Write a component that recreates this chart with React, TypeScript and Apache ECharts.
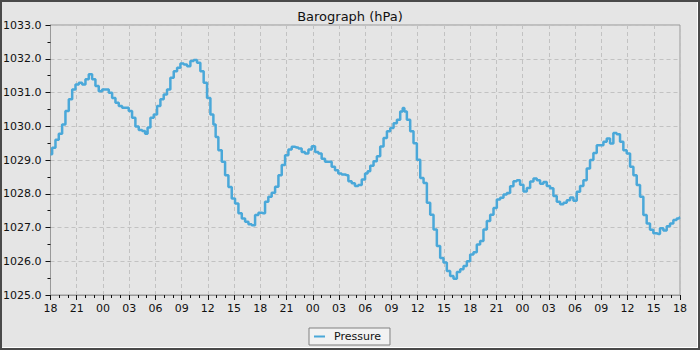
import React, { useEffect, useRef } from "react";
import * as echarts from "echarts";

const hours = [
  0, 0.38, 0.76, 1.14, 1.52, 1.9, 2.29, 2.67, 3.05, 3.43, 3.81, 4.19, 4.57, 4.95, 5.33, 5.71,
  6.1, 6.48, 6.86, 7.24, 7.62, 8.0, 8.38, 8.76, 9.14, 9.52, 9.9, 10.29, 10.67, 10.97, 11.24,
  11.62, 12.0, 12.38, 12.76, 13.14, 13.52, 13.9, 14.29, 14.67, 15.05, 15.43, 15.81, 16.19,
  16.57, 16.95, 17.33, 17.71, 18.1, 18.48, 18.78, 19.0, 19.4, 19.78, 20.16, 20.54, 20.92,
  21.3, 21.69, 22.07, 22.45, 22.83, 23.2, 23.6, 23.97, 24.35, 24.73, 25.1, 25.5, 25.88,
  26.26, 26.64, 27.02, 27.4, 27.78, 28.16, 28.54, 28.92, 29.3, 29.7, 30.07, 30.45, 30.83,
  31.2, 31.6, 31.97, 32.35, 32.73, 33.1, 33.5, 33.88, 34.26, 34.64, 35.0, 35.4, 35.8, 36.16,
  36.38, 36.76, 37.14, 37.52, 37.9, 38.29, 38.67, 39.05, 39.43, 39.81, 40.19, 40.38, 40.57,
  40.95, 41.33, 41.71, 42.1, 42.48, 42.86, 43.24, 43.62, 44.0, 44.38, 44.76, 45.14, 45.52,
  45.9, 46.29, 46.67, 47.05, 47.43, 47.81, 48.19, 48.57, 48.95, 49.33, 49.71, 50.1, 50.48,
  50.86, 51.24, 51.62, 52.0, 52.38, 52.76, 53.14, 53.52, 53.9, 54.29, 54.67, 55.05, 55.43,
  55.81, 56.19, 56.57, 56.95, 57.33, 57.71, 58.1, 58.48, 58.86, 59.24, 59.62, 60.0, 60.38,
  60.76, 61.14, 61.52, 61.9, 62.29, 62.67, 63.05, 63.43, 63.81, 64.19, 64.57, 64.95, 65.33,
  65.71, 66.1, 66.48, 66.86, 67.24, 67.62, 68.0, 68.38, 68.76, 69.14, 69.52, 69.9, 70.29,
  70.67, 71.05, 71.43, 71.81, 72.0,
];

const pressure = [
  1029.17, 1029.36, 1029.6, 1029.78, 1030.05, 1030.45, 1030.8, 1031.09, 1031.24, 1031.29,
  1031.24, 1031.39, 1031.54, 1031.39, 1031.19, 1031.04, 1031.09, 1031.09, 1030.99, 1030.84,
  1030.7, 1030.6, 1030.55, 1030.55, 1030.45, 1030.25, 1029.99, 1029.89, 1029.86, 1029.78,
  1029.96, 1030.25, 1030.35, 1030.6, 1030.8, 1030.94, 1031.09, 1031.44, 1031.63, 1031.73,
  1031.86, 1031.83, 1031.78, 1031.93, 1031.96, 1031.88, 1031.63, 1031.29, 1030.84, 1030.35,
  1030.05, 1029.68, 1029.29, 1028.95, 1028.55, 1028.2, 1027.86, 1027.71, 1027.42, 1027.27,
  1027.17, 1027.1, 1027.07, 1027.37, 1027.44, 1027.42, 1027.76, 1027.91, 1028.03, 1028.21,
  1028.55, 1028.85, 1029.14, 1029.31, 1029.39, 1029.37, 1029.34, 1029.24, 1029.19, 1029.31,
  1029.41, 1029.24, 1029.19, 1029.04, 1028.95, 1028.95, 1028.8, 1028.7, 1028.6, 1028.57,
  1028.55, 1028.37, 1028.31, 1028.23, 1028.26, 1028.42, 1028.6, 1028.67, 1028.83, 1028.96,
  1029.11, 1029.4, 1029.65, 1029.85, 1029.95, 1030.09, 1030.19, 1030.44, 1030.54, 1030.44,
  1030.19, 1029.85, 1029.5, 1029.01, 1028.47, 1028.32, 1027.73, 1027.38, 1026.94, 1026.45,
  1026.1, 1025.96, 1025.71, 1025.56, 1025.48, 1025.68, 1025.76, 1025.86, 1026.0, 1026.2,
  1026.27, 1026.5, 1026.6, 1026.94, 1027.19, 1027.38, 1027.58, 1027.83, 1027.88, 1027.98,
  1028.02, 1028.22, 1028.37, 1028.4, 1028.27, 1028.07, 1028.17, 1028.36, 1028.45, 1028.4,
  1028.3, 1028.35, 1028.23, 1028.16, 1027.93, 1027.76, 1027.69, 1027.73, 1027.81, 1027.89,
  1027.79, 1028.06, 1028.23, 1028.4, 1028.75, 1029.0, 1029.21, 1029.44, 1029.44, 1029.54,
  1029.64, 1029.49, 1029.8, 1029.76, 1029.54, 1029.29, 1029.19, 1028.8, 1028.55, 1028.26,
  1027.91, 1027.37, 1027.12, 1026.93, 1026.83, 1026.81, 1026.98, 1026.91, 1027.04, 1027.12,
  1027.22, 1027.27, 1027.3,
];

const startHour = 18;
const seriesName = "Pressure";
const titleText = "Barograph (hPa)";

export default function App() {
  const ref = useRef<HTMLDivElement>(null);
  useEffect(() => {
    if (!ref.current) return;
    const chart = echarts.init(ref.current, undefined, { renderer: "svg" });
    const font = "DejaVu Sans";
    const data = hours.map((h, i) => [h, pressure[i]]);
    chart.setOption({
      animation: false,
      backgroundColor: "transparent",
      title: {
        text: titleText,
        left: "center",
        top: 5,
        textStyle: { fontFamily: font, fontSize: 13, fontWeight: "normal", color: "#111" },
      },
      grid: {
        left: 50,
        top: 25,
        right: 20,
        bottom: 55,
        show: true,
        borderColor: "#999",
        borderWidth: 1,
        backgroundColor: "transparent",
      },
      legend: {
        data: [seriesName],
        left: 309,
        top: 328,
        icon: "rect",
        itemWidth: 11,
        itemHeight: 2,
        padding: [3, 9, 3, 5],
        backgroundColor: "#f2f2f2",
        borderColor: "#808080",
        borderWidth: 1,
        borderRadius: 0,
        textStyle: { fontFamily: font, fontSize: 11, color: "#111", padding: [0, 0, 0, 4] },
      },
      xAxis: {
        type: "value",
        min: 0,
        max: 72,
        interval: 3,
        axisLine: { lineStyle: { color: "#999" } },
        axisTick: { length: 5, lineStyle: { color: "#111" } },
        minorTick: { show: true, splitNumber: 3, length: 3, lineStyle: { color: "#111" } },
        splitLine: { show: true, lineStyle: { color: "#c2c2c2", type: [4, 3] } },
        axisLabel: {
          fontFamily: font,
          fontSize: 11,
          color: "#111",
          margin: 8,
          formatter: (v: number) => String((startHour + v) % 24).padStart(2, "0"),
        },
      },
      yAxis: {
        type: "value",
        min: 1025,
        max: 1033,
        interval: 1,
        axisLine: { show: true, lineStyle: { color: "#999" } },
        axisTick: { show: true, length: 5, lineStyle: { color: "#111" } },
        minorTick: { show: true, splitNumber: 2, length: 3, lineStyle: { color: "#111" } },
        splitLine: { show: true, lineStyle: { color: "#c2c2c2", type: [4, 3] } },
        axisLabel: {
          fontFamily: font,
          fontSize: 11,
          color: "#111",
          margin: 9,
          formatter: (v: number) => v.toFixed(1),
        },
      },
      series: [
        {
          name: seriesName,
          type: "line",
          data,
          step: "middle",
          showSymbol: false,
          symbol: "none",
          color: "#4aa8d9",
          lineStyle: { width: 2.5, color: "#4aa8d9" },
        },
      ],
    });
    return () => chart.dispose();
  }, []);

  return (
    <div style={{ position: "fixed", left: 0, top: 0, width: 700, height: 350, background: "#4a4a4a" }}>
      <div
        style={{
          position: "absolute",
          left: 2,
          top: 2,
          width: 695,
          height: 345,
          background: "#e5e5e5",
          borderRight: "1px solid #ffffff",
          borderBottom: "1px solid #ffffff",
        }}
      />
      <div ref={ref} style={{ position: "absolute", left: 0, top: 0, width: 700, height: 350 }} />
    </div>
  );
}
